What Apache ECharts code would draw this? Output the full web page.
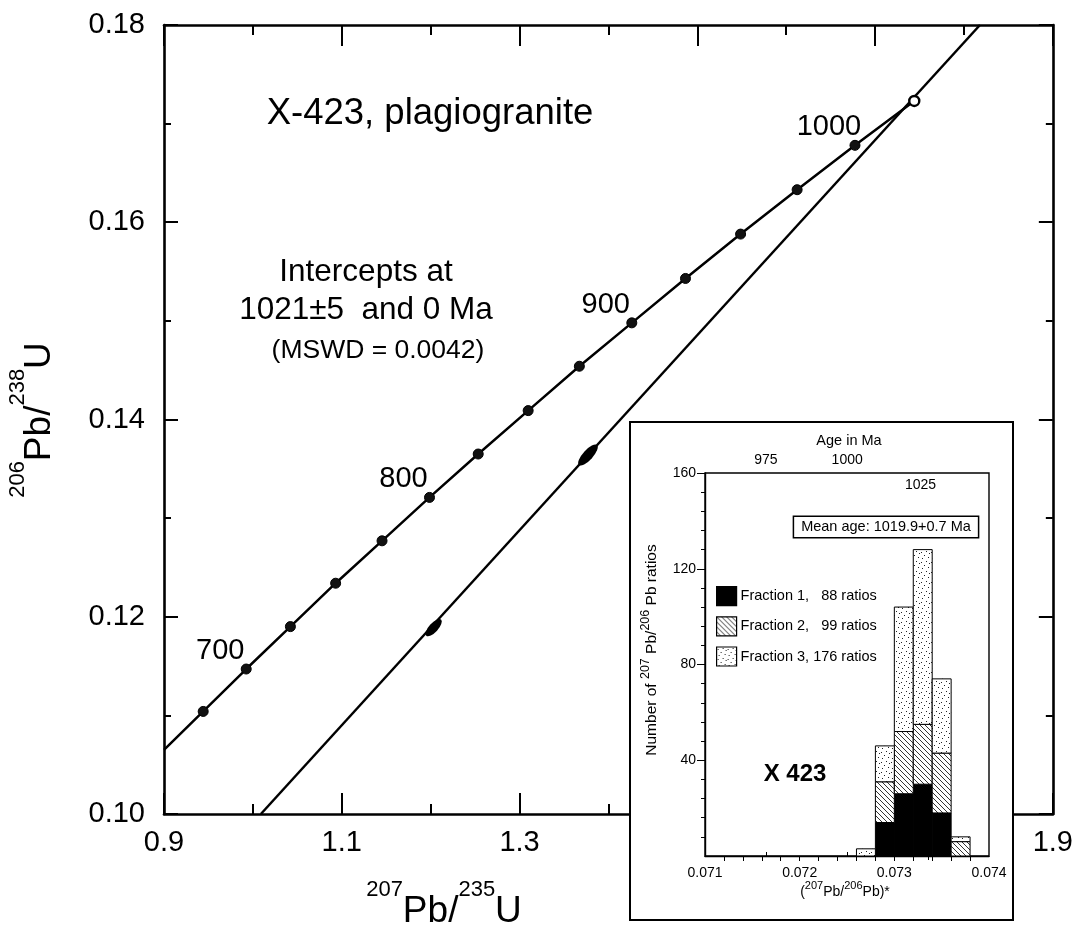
<!DOCTYPE html>
<html>
<head>
<meta charset="utf-8">
<script src="https://cdn.jsdelivr.net/npm/echarts@6/dist/echarts.min.js"></script>
<style>
html,body{margin:0;padding:0;background:#fff;}
#chart{width:1076px;height:929px;}
</style>
</head>
<body>
<div id="chart"></div>
<script>
// ---------------- Main concordia diagram data ----------------
const concordiaAges = [675, 700, 725, 750, 775, 800, 825, 850, 875, 900, 925, 950, 975, 1000, 1025];
const concordia207 = [0.9441, 0.9925, 1.0422, 1.0931, 1.1453, 1.1987, 1.2535, 1.3097, 1.3673, 1.4263, 1.4867, 1.5487, 1.6123, 1.6774, 1.7441];
const concordia206 = [0.1104, 0.1147, 0.1190, 0.1234, 0.1277, 0.1321, 0.1365, 0.1409, 0.1454, 0.1498, 0.1543, 0.1588, 0.1633, 0.1678, 0.1723];
const concordiaEdge207 = [0.9];
const concordiaEdge206 = [0.1065];
const labelledAges = [700, 800, 900, 1000];
const discordia207 = [1.009, 1.818];
const discordia206 = [0.100, 0.180];
const analyses207 = [1.2034, 1.377];
const analyses206 = [0.1189, 0.1364];
const mainXTicks = [0.9, 1.0, 1.1, 1.2, 1.3, 1.4, 1.5, 1.6, 1.7, 1.8, 1.9];
const mainXLabels = [0.9, 1.1, 1.3, 1.5, 1.7, 1.9];
const mainYTicks = [0.10, 0.11, 0.12, 0.13, 0.14, 0.15, 0.16, 0.17, 0.18];
const mainYLabels = [0.10, 0.12, 0.14, 0.16, 0.18];

// ---------------- Inset histogram data ----------------
const binStart = [0.0726, 0.0728, 0.0730, 0.0732, 0.0734, 0.0736];
const binEnd   = [0.0728, 0.0730, 0.0732, 0.0734, 0.0736, 0.0738];
const fraction1 = [0, 14, 26, 30, 18, 0];
const fraction2 = [0, 17, 26, 25, 25, 6];
const fraction3 = [3, 15, 52, 73, 31, 2];
const fractionNames = ['Fraction 1,   88 ratios', 'Fraction 2,   99 ratios', 'Fraction 3, 176 ratios'];
const insetXTicks = [0.0712, 0.0714, 0.0716, 0.0718, 0.0720, 0.0722, 0.0724, 0.0726, 0.0728, 0.0730, 0.0732, 0.0734, 0.0736, 0.0738];
const insetXLabels = [0.071, 0.072, 0.073, 0.074];
const insetYMinor = [8, 16, 24, 32, 40, 48, 56, 64, 72, 80, 88, 96, 104, 112, 120, 128, 136, 144, 152, 160];
const insetYLabels = [40, 80, 120, 160];
const ageTicksOut = [975, 1000];
const ageTicksIn = [1025];

const FONT = 'Liberation Sans, Arial, Helvetica, sans-serif';

function hatchPattern() {
  const c = document.createElement('canvas');
  c.width = 5; c.height = 5;
  const g = c.getContext('2d');
  g.fillStyle = '#fff'; g.fillRect(0, 0, 5, 5);
  g.strokeStyle = '#000'; g.lineWidth = 0.8;
  g.beginPath();
  g.moveTo(-1, -1); g.lineTo(6, 6);
  g.moveTo(-1, 4); g.lineTo(1, 6);
  g.moveTo(4, -1); g.lineTo(6, 1);
  g.stroke();
  return { image: c, repeat: 'repeat' };
}
function stipplePattern() {
  const c = document.createElement('canvas');
  c.width = 10; c.height = 10;
  const g = c.getContext('2d');
  g.fillStyle = '#fff'; g.fillRect(0, 0, 10, 10);
  g.fillStyle = '#222';
  [[1, 2], [6, 1], [4, 5], [8, 7], [2, 8], [9, 3]].forEach(p => g.fillRect(p[0], p[1], 1, 1));
  return { image: c, repeat: 'repeat' };
}

function stackItems(counts, below) {
  const out = [];
  counts.forEach((n, i) => {
    const base = below.reduce((s, arr) => s + arr[i], 0);
    if (n > 0) out.push([binStart[i], binEnd[i], base, base + n]);
  });
  return out;
}

function renderBin(params, api) {
  const p0 = api.coord([api.value(0), api.value(2)]);
  const p1 = api.coord([api.value(1), api.value(3)]);
  return {
    type: 'rect',
    shape: { x: p0[0], y: p1[1], width: p1[0] - p0[0], height: p0[1] - p1[1] },
    style: api.style()
  };
}

const concordiaLine = concordiaEdge207.map((x, i) => [x, concordiaEdge206[i]])
  .concat(concordia207.map((x, i) => [x, concordia206[i]]));
const filledPoints = concordia207.slice(0, -1).map((x, i) => [x, concordia206[i]]);
const openPoint = [[concordia207[concordia207.length - 1], concordia206[concordia206.length - 1]]];
const agePoints = labelledAges.map(a => {
  const i = concordiaAges.indexOf(a);
  return [concordia207[i], concordia206[i], a];
});

const black = '#000';
const mainAxisBase = {
  type: 'value', gridIndex: 0, splitLine: { show: false },
  axisLine: { show: false, onZero: false, lineStyle: { color: black, width: 2.6 } },
  axisLabel: { show: false }
};
function ax(extra) { return echarts.util.merge(echarts.util.clone(mainAxisBase), extra, true); }

const chart = echarts.init(document.getElementById('chart'), null, { renderer: 'canvas' });

const option = {
  backgroundColor: '#fff',
  animation: false,
  textStyle: { fontFamily: FONT, color: black },
  grid: [
    { left: 164, top: 25, width: 889, height: 789, show: false },
    { left: 705, top: 473, width: 284, height: 383, show: true, borderColor: black, borderWidth: 1.4, backgroundColor: 'transparent', z: 110 }
  ],
  xAxis: [
    ax({ position: 'bottom', min: 0.9, max: 1.9,
      axisLine: { show: true },
      axisTick: { show: true, inside: true, length: 10, lineStyle: { color: black, width: 2 }, customValues: mainXTicks },
      axisLabel: { show: true, customValues: mainXLabels, formatter: v => v.toFixed(1), fontSize: 29, color: black, margin: 14, fontFamily: FONT } }),
    ax({ position: 'bottom', min: 0.9, max: 1.9,
      axisTick: { show: true, inside: true, length: 21, lineStyle: { color: black, width: 2 }, customValues: mainXLabels } }),
    ax({ position: 'top', min: 0.9, max: 1.9,
      axisLine: { show: true },
      axisTick: { show: true, inside: true, length: 10, lineStyle: { color: black, width: 2 }, customValues: mainXTicks } }),
    ax({ position: 'top', min: 0.9, max: 1.9,
      axisTick: { show: true, inside: true, length: 21, lineStyle: { color: black, width: 2 }, customValues: mainXLabels } }),
    // inset ratio axis
    { type: 'value', gridIndex: 1, position: 'bottom', min: 0.071, max: 0.074, z: 110,
      splitLine: { show: false },
      axisLine: { show: true, onZero: false, lineStyle: { color: black, width: 1.4 } },
      axisTick: { show: true, inside: false, length: 5, lineStyle: { color: black, width: 1 }, customValues: insetXTicks },
      axisLabel: { customValues: insetXLabels, formatter: v => v.toFixed(3), fontSize: 14, color: black, margin: 10, fontFamily: FONT } },
    // inset age axis (top)
    { type: 'value', gridIndex: 1, position: 'top', min: 956.3, max: 1043.6, z: 110,
      splitLine: { show: false }, axisLine: { show: false },
      axisTick: { show: true, inside: false, length: 4, lineStyle: { color: black, width: 1 }, customValues: ageTicksOut },
      axisLabel: { customValues: ageTicksOut, formatter: v => String(Math.round(v)), fontSize: 14, color: black, margin: 6, fontFamily: FONT } },
    { type: 'value', gridIndex: 1, position: 'top', min: 956.3, max: 1043.6, z: 110,
      splitLine: { show: false }, axisLine: { show: false },
      axisTick: { show: true, inside: true, length: 4, lineStyle: { color: black, width: 1 }, customValues: ageTicksIn },
      axisLabel: { customValues: ageTicksIn, formatter: v => String(Math.round(v)), inside: true, fontSize: 14, color: black, margin: 5, padding: [0, 16, 0, 0], fontFamily: FONT } }
  ],
  yAxis: [
    ax({ position: 'left', min: 0.10, max: 0.18,
      axisLine: { show: true },
      axisTick: { show: true, inside: true, length: 7, lineStyle: { color: black, width: 2 }, customValues: mainYTicks },
      axisLabel: { show: true, customValues: mainYLabels, formatter: v => v.toFixed(2), fontSize: 29, color: black, margin: 19, fontFamily: FONT } }),
    ax({ position: 'left', min: 0.10, max: 0.18,
      axisTick: { show: true, inside: true, length: 14, lineStyle: { color: black, width: 2 }, customValues: mainYLabels } }),
    ax({ position: 'right', min: 0.10, max: 0.18,
      axisLine: { show: true },
      axisTick: { show: true, inside: true, length: 7, lineStyle: { color: black, width: 2 }, customValues: mainYTicks } }),
    ax({ position: 'right', min: 0.10, max: 0.18,
      axisTick: { show: true, inside: true, length: 14, lineStyle: { color: black, width: 2 }, customValues: mainYLabels } }),
    // inset count axis
    { type: 'value', gridIndex: 1, position: 'left', min: 0, max: 160, z: 110,
      splitLine: { show: false },
      axisLine: { show: true, onZero: false, lineStyle: { color: black, width: 1.4 } },
      axisTick: { show: true, inside: false, length: 4, lineStyle: { color: black, width: 1 }, customValues: insetYMinor },
      axisLabel: { customValues: insetYLabels, fontSize: 14, color: black, margin: 9, fontFamily: FONT } },
    { type: 'value', gridIndex: 1, position: 'left', min: 0, max: 160, z: 110,
      splitLine: { show: false }, axisLine: { show: false },
      axisTick: { show: true, inside: false, length: 8, lineStyle: { color: black, width: 1 }, customValues: insetYLabels },
      axisLabel: { show: false } }
  ],
  legend: {
    data: fractionNames, orient: 'vertical', left: 716, top: 586, padding: 0,
    itemWidth: 20, itemHeight: 19, itemGap: 10, icon: 'rect', selectedMode: false, z: 130,
    itemStyle: { borderColor: black, borderWidth: 1.2 },
    textStyle: { fontSize: 14.5, color: black, fontFamily: FONT, padding: [0, 0, 0, -1] }
  },
  series: [
    { name: 'concordia', type: 'line', xAxisIndex: 0, yAxisIndex: 0, data: concordiaLine,
      showSymbol: false, symbol: 'none', lineStyle: { color: black, width: 2.5 }, silent: true, z: 2 },
    { name: 'discordia', type: 'line', xAxisIndex: 0, yAxisIndex: 0,
      data: discordia207.map((x, i) => [x, discordia206[i]]),
      showSymbol: false, symbol: 'none', lineStyle: { color: black, width: 2.5 }, silent: true, z: 2 },
    { name: 'concordia ages', type: 'scatter', xAxisIndex: 0, yAxisIndex: 0, data: filledPoints,
      symbol: 'circle', symbolSize: 10, itemStyle: { color: '#111', borderColor: black, borderWidth: 1, opacity: 1 }, silent: true, z: 3 },
    { name: 'upper intercept', type: 'scatter', xAxisIndex: 0, yAxisIndex: 0, data: openPoint,
      symbol: 'circle', symbolSize: 10, itemStyle: { color: '#fff', borderColor: black, borderWidth: 2.4, opacity: 1 }, silent: true, z: 3 },
    { name: 'age labels', type: 'scatter', xAxisIndex: 0, yAxisIndex: 0, data: agePoints,
      symbolSize: 0, silent: true, z: 3, itemStyle: { opacity: 1 },
      label: { show: true, position: 'inside', offset: [-26, -18], formatter: p => String(p.value[2]),
        fontSize: 29, color: black, opacity: 1, textBorderWidth: 0, fontFamily: FONT } },
    { name: 'analyses', type: 'scatter', xAxisIndex: 0, yAxisIndex: 0,
      data: [
        { value: [analyses207[0], analyses206[0]], symbolSize: [22, 9] },
        { value: [analyses207[1], analyses206[1]], symbolSize: [27, 10] }
      ],
      symbol: 'circle', symbolRotate: 47.6, itemStyle: { color: black, opacity: 1 }, silent: true, z: 3 },
    // inset histogram
    { name: fractionNames[0], type: 'custom', xAxisIndex: 4, yAxisIndex: 4, z: 120,
      renderItem: renderBin, encode: { x: [0, 1], y: [2, 3] },
      itemStyle: { color: black, borderColor: black, borderWidth: 1 },
      data: stackItems(fraction1, []) },
    { name: fractionNames[1], type: 'custom', xAxisIndex: 4, yAxisIndex: 4, z: 120,
      renderItem: renderBin, encode: { x: [0, 1], y: [2, 3] },
      itemStyle: { color: hatchPattern(), borderColor: black, borderWidth: 1 },
      data: stackItems(fraction2, [fraction1]) },
    { name: fractionNames[2], type: 'custom', xAxisIndex: 4, yAxisIndex: 4, z: 120,
      renderItem: renderBin, encode: { x: [0, 1], y: [2, 3] },
      itemStyle: { color: stipplePattern(), borderColor: black, borderWidth: 1 },
      data: stackItems(fraction3, [fraction1, fraction2]) }
  ],
  graphic: [
    { type: 'rect', z: 100, shape: { x: 630, y: 422, width: 383, height: 498 },
      style: { fill: '#fff', stroke: black, lineWidth: 2 } },
    // main annotations
    { type: 'text', z: 5, x: 430, y: 114, style: { text: 'X-423, plagiogranite', fontSize: 36.5, fontFamily: FONT, fill: black, align: 'center', verticalAlign: 'middle', textAlign: 'center', textVerticalAlign: 'middle' } },
    { type: 'text', z: 5, x: 366, y: 272, style: { text: 'Intercepts at', fontSize: 31.5, fontFamily: FONT, fill: black, align: 'center', verticalAlign: 'middle', textAlign: 'center', textVerticalAlign: 'middle' } },
    { type: 'text', z: 5, x: 366, y: 310, style: { text: '1021\u00b15  and 0 Ma', fontSize: 31.5, fontFamily: FONT, fill: black, align: 'center', verticalAlign: 'middle', textAlign: 'center', textVerticalAlign: 'middle' } },
    { type: 'text', z: 5, x: 378, y: 351, style: { text: '(MSWD = 0.0042)', fontSize: 26.5, fontFamily: FONT, fill: black, align: 'center', verticalAlign: 'middle', textAlign: 'center', textVerticalAlign: 'middle' } },
    // main axis titles
    { type: 'text', z: 5, x: 444, y: 912, style: {
        text: '{s|207}{b|Pb/}{s|235}{b|U}', fill: black, align: 'center', verticalAlign: 'middle', textAlign: 'center', textVerticalAlign: 'middle',
        rich: { b: { fontSize: 37, fontFamily: FONT, fill: black, color: black }, s: { fontSize: 22, fontFamily: FONT, fill: black, color: black, padding: [0, 0, 44, 0] } } } },
    { type: 'text', z: 5, x: 40, y: 420, rotation: Math.PI / 2, style: {
        text: '{s|206}{b|Pb/}{s|238}{b|U}', fill: black, align: 'center', verticalAlign: 'middle', textAlign: 'center', textVerticalAlign: 'middle',
        rich: { b: { fontSize: 37, fontFamily: FONT, fill: black, color: black }, s: { fontSize: 22, fontFamily: FONT, fill: black, color: black, padding: [0, 0, 44, 0] } } } },
    // inset texts
    { type: 'text', z: 130, x: 849, y: 441, style: { text: 'Age in Ma', fontSize: 14.5, fontFamily: FONT, fill: black, align: 'center', verticalAlign: 'middle', textAlign: 'center', textVerticalAlign: 'middle' } },
    { type: 'text', z: 130, x: 886, y: 527, style: { text: 'Mean age: 1019.9+0.7 Ma', fontSize: 14.5, fontFamily: FONT, fill: black, align: 'center', verticalAlign: 'middle', textAlign: 'center', textVerticalAlign: 'middle',
        backgroundColor: '#fff', borderColor: black, borderWidth: 1.5, padding: [3, 7, 2, 7] } },
    { type: 'text', z: 130, x: 795, y: 774, style: { text: 'X 423', fontSize: 24, fontWeight: 'bold', fontFamily: FONT, fill: black, align: 'center', verticalAlign: 'middle', textAlign: 'center', textVerticalAlign: 'middle' } },
    { type: 'text', z: 130, x: 845, y: 892, style: {
        text: '{b|(}{s|207}{b|Pb/}{s|206}{b|Pb)*}', fill: black, align: 'center', verticalAlign: 'middle', textAlign: 'center', textVerticalAlign: 'middle',
        rich: { b: { fontSize: 14, fontFamily: FONT, fill: black, color: black }, s: { fontSize: 11, fontFamily: FONT, fill: black, color: black, padding: [0, 0, 12, 0] } } } },
    { type: 'text', z: 130, x: 652, y: 650, rotation: Math.PI / 2, style: {
        text: '{b|Number of }{s|207}{b| Pb/}{s|206}{b| Pb ratios}', fill: black, align: 'center', verticalAlign: 'middle', textAlign: 'center', textVerticalAlign: 'middle',
        rich: { b: { fontSize: 15.5, fontFamily: FONT, fill: black, color: black }, s: { fontSize: 12.5, fontFamily: FONT, fill: black, color: black, padding: [0, 0, 12, 0] } } } }
  ]
};
chart.setOption(option);
</script>
</body>
</html>
